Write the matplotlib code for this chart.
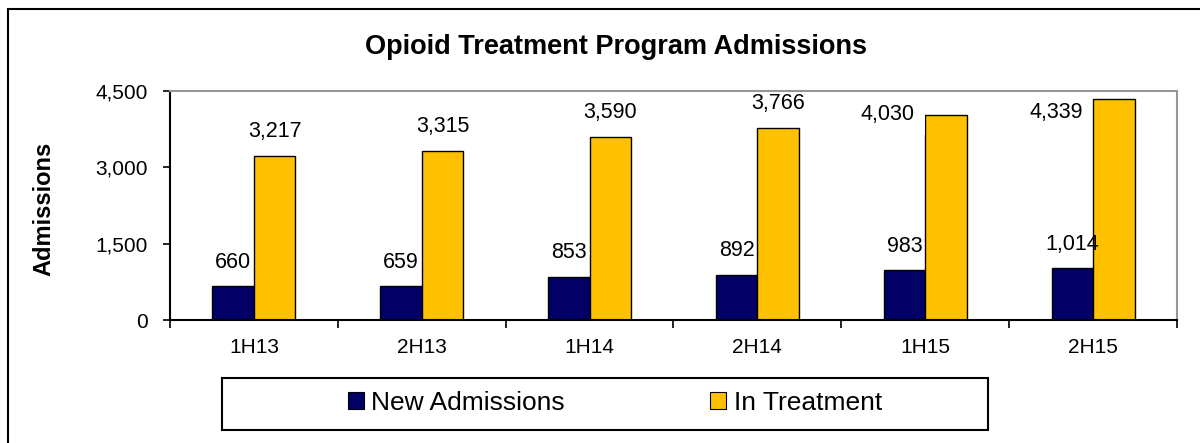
import numpy as np
import matplotlib
matplotlib.use("Agg")
import matplotlib.pyplot as plt
from matplotlib.patches import Patch, Rectangle
from matplotlib.ticker import FuncFormatter

plt.rcParams["font.family"] = ["Liberation Sans", "DejaVu Sans"]

# half-year periods and admissions counts
periods = ["1H13", "2H13", "1H14", "2H14", "1H15", "2H15"]
new_admissions = [660, 659, 853, 892, 983, 1014]
in_treatment = [3217, 3315, 3590, 3766, 4030, 4339]
series_names = ["New Admissions", "In Treatment"]
y_ticks = [0, 1500, 3000, 4500]

NAVY = "#000066"
GOLD = "#FFC000"
W, H, DPI = 1200, 443, 100

fig = plt.figure(figsize=(W / DPI, H / DPI), dpi=DPI)

# outer chart border (runs off the right and bottom edges)
fig.patches.append(Rectangle((8 / W, -0.1), 1.2, (H - 9) / H + 0.1,
                             transform=fig.transFigure, fill=False,
                             ec="black", lw=1.5, zorder=0))

ax = fig.add_axes([170 / W, (H - 320) / H, 1007 / W, 229 / H])
x = np.arange(len(periods))
bw = 0.247

ax.bar(x - bw / 2, new_admissions, bw, color=NAVY, ec="black", lw=1.0, zorder=2)
ax.bar(x + bw / 2, in_treatment, bw, color=GOLD, ec="black", lw=1.0, zorder=2)

ax.set_xlim(-0.5, len(periods) - 0.5)
ax.set_ylim(0, 4500)

# value labels
for i, v in enumerate(new_admissions):
    ax.annotate(f"{v:,}", (x[i] - bw / 2, v), xytext=(0, 17),
                textcoords="offset points", ha="center", va="center",
                fontsize=15.5, zorder=4, annotation_clip=False)
for i, v in enumerate(in_treatment):
    if v < 4000:
        ax.annotate(f"{v:,}", (x[i] + bw / 2, v), xytext=(0, 18),
                    textcoords="offset points", ha="center", va="center",
                    fontsize=15.5, zorder=4, annotation_clip=False)
    else:
        # no room above the bar: put it to the left, kept inside the plot
        ax.annotate(f"{v:,}", (x[i], min(v, 4080)), xytext=(-7.5, 0),
                    textcoords="offset points", ha="right", va="center",
                    fontsize=15.5, zorder=4, annotation_clip=False,
                    bbox=dict(boxstyle="square,pad=0.45", fc="white", ec="none"))

# axes styling
for side in ["top", "right"]:
    ax.spines[side].set_color("#969696")
    ax.spines[side].set_linewidth(1.5)
for side in ["left", "bottom"]:
    ax.spines[side].set_color("black")
    ax.spines[side].set_linewidth(1.5)

ax.set_yticks(y_ticks)
ax.yaxis.set_major_formatter(FuncFormatter(lambda v, p: f"{int(v):,}"))
ax.tick_params(axis="y", direction="out", length=5, width=1.2, pad=11,
               labelsize=15)

ax.set_xticks(x)
ax.set_xticklabels(periods)
ax.tick_params(axis="x", which="major", length=0, pad=13, labelsize=15)
ax.set_xticks(np.arange(-0.5, len(periods)), minor=True)
ax.tick_params(axis="x", which="minor", direction="out", length=5.5, width=1.2)

ax.set_ylabel("Admissions", fontsize=17, fontweight="bold")
ax.yaxis.set_label_coords(-0.114, 0.485)

fig.text(616 / W, (H - 47) / H, "Opioid Treatment Program Admissions",
         ha="center", va="center", fontsize=19.5, fontweight="bold")

# legend with its own box
fig.patches.append(Rectangle((222 / W, (H - 430) / H), (988 - 222) / W,
                             52 / H, transform=fig.transFigure, fill=False,
                             ec="black", lw=1.5))
handles = [Patch(fc=NAVY, ec="black", lw=0.8), Patch(fc=GOLD, ec="black", lw=0.8)]
fig.legend(handles, series_names, loc="center", ncol=2,
           bbox_to_anchor=(615 / W, (H - 403) / H), frameon=False,
           fontsize=19, handlelength=0.6, handleheight=0.6,
           handletextpad=0.3, columnspacing=5.5)

fig.savefig("out.png", dpi=DPI)
